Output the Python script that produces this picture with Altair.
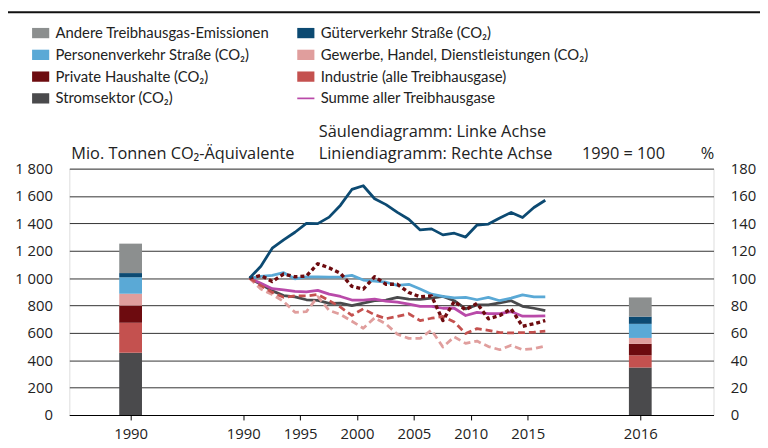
import altair as alt
import pandas as pd

# ---------------- data ----------------
# legend entries (column-major: left column first, then right column)
legend_series = [
    "Andere Treibhausgas-Emissionen",
    "Personenverkehr Straße (CO₂)",
    "Private Haushalte (CO₂)",
    "Stromsektor (CO₂)",
    "Güterverkehr Straße (CO₂)",
    "Gewerbe, Handel, Dienstleistungen (CO₂)",
    "Industrie (alle Treibhausgase)",
    "Summe aller Treibhausgase",
]
legend_colors = ["#8c8f8f", "#5aa9d6", "#6d0b0f", "#4a4a4c",
                 "#0c4a72", "#e09e9d", "#c4514f", "#b94aa9"]

stack_series = [
    "Stromsektor (CO₂)",
    "Industrie (alle Treibhausgase)",
    "Private Haushalte (CO₂)",
    "Gewerbe, Handel, Dienstleistungen (CO₂)",
    "Personenverkehr Straße (CO₂)",
    "Güterverkehr Straße (CO₂)",
    "Andere Treibhausgas-Emissionen",
]
bar_1990 = [455, 219, 125, 87, 120, 31, 215]
bar_2016 = [347, 89, 84, 43, 103, 53, 140]
bar_labels = ["1990", "2016"]

years = list(range(1990, 2017))
gueter = [100, 108.7, 121.9, 128, 133.5, 140, 139.8, 144.6, 153.3, 164.8, 167.5, 158,
          153.7, 148, 143, 135.2, 136, 131.6, 132.8, 130, 138.8, 139.5, 144, 148,
          144.3, 151.6, 156.9]
personen = [100, 101.2, 102, 104, 99.5, 101, 101, 100.7, 101, 102, 98.6, 97.8, 97,
            94.7, 95.5, 92, 88.3, 86.6, 85.6, 85.9, 84.2, 85.9, 83.5, 85.4, 87.8,
            86.3, 86.3]
summe = [100, 96.2, 92.3, 91.4, 90.4, 90, 91.1, 88.3, 86.6, 84, 84, 84.7, 83.2,
         82.5, 81, 79.4, 79.4, 78, 78, 72.7, 75, 74, 74, 75.6, 72.2, 72.2, 72.5]
strom = [100, 95.5, 90.7, 87.3, 86.3, 84.2, 83.7, 81.6, 81.8, 79.9, 81.8, 83.5, 84,
         85.9, 84.7, 84.4, 85.4, 86.6, 83.5, 77.5, 80.4, 80.4, 82, 83.5, 79.4, 78,
         76.3]
haushalte = [100, 102, 97.5, 103, 101, 101.5, 110.5, 107.5, 103.5, 94, 92, 101,
             95.5, 95.5, 89.5, 86.3, 87, 69, 83, 76.8, 81.6, 70.3, 72.7, 77.5, 64.8,
             66.7, 69]
industrie = [100, 94.5, 89.6, 86, 87, 87, 88, 83.6, 78.8, 72.8, 77.6, 73.2, 70.4,
             72, 74, 69, 70.7, 72, 67.9, 59.5, 63.1, 61.9, 60.2, 60, 60.2, 60.5, 61.2]
gewerbe = [100, 92, 88, 83, 75, 75.5, 86.5, 76.4, 73.5, 68.5, 63.4, 71, 66.5, 59,
           56, 56, 62, 49.7, 57.1, 52.3, 54, 50, 47.7, 51, 47.7, 48.5, 50.3]

# x positions on a continuous scale (bars sit left/right of the line panel)
bar_pos = [1980.1, 2024.9]
line_offset = 0.55

# ---------------- tables ----------------
color_of = dict(zip(legend_series, legend_colors))
rows = []
for p, vals in zip(bar_pos, [bar_1990, bar_2016]):
    for k, (s, v) in enumerate(zip(stack_series, vals)):
        rows.append({"pos": p, "series": s, "value": v, "ord": k})
bars_df = pd.DataFrame(rows)

FONT = "Open Sans"
LFONT = "Lato"
TXT = "#222222"

xscale = alt.Scale(domain=[1975.15, 2030.9], nice=False, zero=False)

label_expr = ("datum.value < 1985 ? '" + bar_labels[0] + "' : (datum.value > 2020 ? '"
              + bar_labels[1] + "' : format(datum.value, 'd'))")
xaxis = alt.Axis(values=[bar_pos[0], 1990, 1995, 2000, 2005, 2010, 2015, bar_pos[1]],
                 labelExpr=label_expr, grid=False, tickSize=5, tickColor="#000",
                 domainColor="#000", labelPadding=7, title=None, labelFont=FONT,
                 labelFontSize=15, labelColor=TXT, labelFlush=False, labelOverlap=False)
left_axis = alt.Axis(orient="left", values=list(range(0, 1801, 200)), grid=True,
                     gridColor="#333333", gridWidth=1, ticks=False, domain=False,
                     labelPadding=17, title=None, labelFont=FONT, labelFontSize=15,
                     labelColor=TXT,
                     labelExpr="replace(format(datum.value, ','), ',', ' ')")
right_axis = alt.Axis(orient="right", values=list(range(0, 181, 20)), grid=False,
                      ticks=False, domain=False, labelPadding=17, title=None,
                      labelFont=FONT, labelFontSize=15, labelColor=TXT)

bars = alt.Chart(bars_df).mark_bar(size=23).encode(
    x=alt.X("pos:Q", scale=xscale, axis=xaxis),
    y=alt.Y("value:Q", stack="zero", scale=alt.Scale(domain=[0, 1800], nice=False),
            axis=left_axis),
    fill=alt.Fill("series:N",
                  scale=alt.Scale(domain=stack_series,
                                  range=[color_of[s] for s in stack_series]),
                  legend=None),
    order=alt.Order("ord:Q"),
)

line_specs = [
    ("Stromsektor (CO₂)", strom, None, 2.8),
    ("Summe aller Treibhausgase", summe, None, 2.8),
    ("Personenverkehr Straße (CO₂)", personen, None, 2.8),
    ("Gewerbe, Handel, Dienstleistungen (CO₂)", gewerbe, [7, 4], 2.8),
    ("Industrie (alle Treibhausgase)", industrie, [7, 4], 2.8),
    ("Private Haushalte (CO₂)", haushalte, [4, 3], 3.4),
    ("Güterverkehr Straße (CO₂)", gueter, None, 2.8),
]
line_layers = []
for i, (name, vals, dash, w) in enumerate(line_specs):
    df = pd.DataFrame({"pos": [y + line_offset for y in years], "value": vals,
                       "series": name})
    mk = dict(strokeWidth=w, strokeCap="butt", strokeJoin="round",
              color=color_of[name])
    if dash:
        mk["strokeDash"] = dash
    line_layers.append(
        alt.Chart(df).mark_line(**mk).encode(
            x=alt.X("pos:Q", scale=xscale, axis=None),
            y=alt.Y("value:Q", scale=alt.Scale(domain=[0, 180], nice=False),
                    axis=right_axis if i == 0 else None),
        )
    )
lines = alt.layer(*line_layers).resolve_axis(x="independent", y="independent")

rect_path = "M-1,-0.6H1V0.6H-1Z"
line_path = "M-1,-0.1H1V0.1H-1Z"
shapes_by_series = [line_path if s.startswith("Summe") else rect_path
                    for s in legend_series]
leg_def = alt.Legend(orient="none", legendX=-38, legendY=-146, columns=2,
                     columnPadding=27, rowPadding=5, title=None, padding=0,
                     symbolSize=300, symbolStrokeWidth=0, symbolOpacity=1,
                     labelOffset=6, labelFont=LFONT, labelFontSize=15,
                     labelColor=TXT, labelLimit=400)
legend_layer = alt.Chart(pd.DataFrame({"series": legend_series})).mark_point(
    filled=True, size=300, clip=True, opacity=1).encode(
    x=alt.value(-600), y=alt.value(-600),
    color=alt.Color("series:N",
                    scale=alt.Scale(domain=legend_series, range=legend_colors),
                    legend=leg_def),
    shape=alt.Shape("series:N",
                    scale=alt.Scale(domain=legend_series, range=shapes_by_series),
                    legend=leg_def),
)


def text_layer(t, x, y):
    return alt.Chart(pd.DataFrame({"t": [t]})).mark_text(
        align="left", baseline="alphabetic", font=FONT, fontSize=16.5, color=TXT
    ).encode(text="t:N", x=alt.value(x), y=alt.value(y))


texts = [
    text_layer("Mio. Tonnen CO₂-Äquivalente", 2, -9.5),
    text_layer("Säulendiagramm: Linke Achse", 252, -31.5),
    text_layer("Liniendiagramm: Rechte Achse", 252, -9.5),
    text_layer("1990 = 100", 518, -9.5),
    text_layer("%", 638, -9.5),
]
top_rule = alt.Chart(pd.DataFrame({"a": [0]})).mark_rule(
    color="#111", strokeWidth=2).encode(
    x=alt.value(-63), x2=alt.value(700), y=alt.value(-158))

chart = alt.layer(bars, lines, legend_layer, *texts, top_rule).resolve_scale(
    y="independent"
).resolve_axis(x="independent").properties(
    width=651, height=249,
    padding={"left": 62, "top": 160, "right": 47, "bottom": 31},
    autosize=alt.AutoSizeParams(type="none"),
).configure_view(stroke=None).configure(background="white")

chart.save("out.html", embed_options={"renderer": "svg", "actions": False})
